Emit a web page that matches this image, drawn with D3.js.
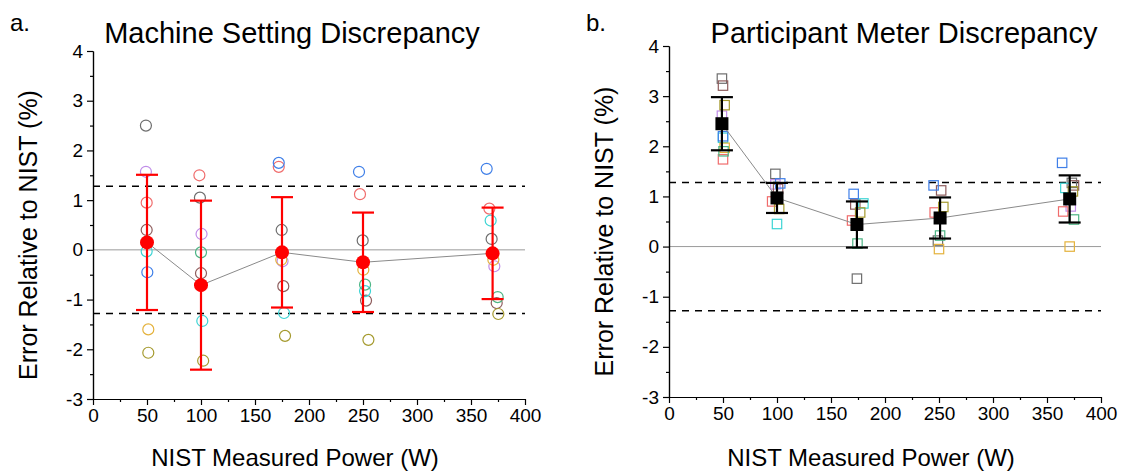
<!DOCTYPE html>
<html>
<head>
<meta charset="utf-8">
<script src="https://cdn.jsdelivr.net/npm/d3@7"></script>
<style>
body{margin:0;background:#fff;}
svg{font-family:"Liberation Sans",Arial,sans-serif;}
.tick text{font-size:19px;fill:#000;}
.domain,.tick line{stroke:#000;stroke-width:1.2;}
</style>
</head>
<body>
<svg id="chart" width="1124" height="471"></svg>
<script>
// ticks
var powerTicks = [0,50,100,150,200,250,300,350,400];
var powerMinor = [25,75,125,175,225,275,325,375];
var errorTicks = [-3,-2,-1,0,1,2,3,4];
var errorMinor = [-2.5,-1.5,-0.5,0.5,1.5,2.5,3.5];
var limitBand = 1.28;

// participants, one colour each
var people = ['gray','purple','red','brown','cyan','blue','orange','olive','green'];
var colors = ['#6e6e6e','#c08ce8','#f06c6c','#8e5c5c','#3cd4d4','#3f7fe8','#e4b23c','#a59a2e','#4db585'];

// a. machine setting discrepancy: x = NIST power (W), y = error (%)
var machineX = [
  [49,99,174.7,249.7,369.1],
  [49,100.5,175.5,null,371.6],
  [49.7,98.5,172,247.2,367],
  [49.7,100,176.2,252.8,373.8],
  [49.7,101.2,176.9,251.9,368.2],
  [50.3,null,172,246.3,364.5],
  [51.2,null,174.3,250.3,370.7],
  [51.2,102,177.8,255,375.3],
  [null,100,null,251.9,374.7]
];
var machineY = [
  [2.5,1.05,0.40,0.19,0.22],
  [1.57,0.32,-0.23,null,-0.33],
  [0.95,1.5,1.67,1.12,0.83],
  [0.40,-0.47,-0.73,-1.02,-1.07],
  [-0.03,-1.43,-1.27,-0.83,0.59],
  [-0.45,null,1.75,1.57,1.63],
  [-1.6,null,-0.2,-0.4,-0.2],
  [-2.07,-2.23,-1.73,-1.81,-1.29],
  [null,-0.05,null,-0.7,-0.95]
];
var machineMeanX = [50,100,175,250,370];
var machineMeanY = [0.15,-0.71,-0.05,-0.25,-0.07];
var machineErr = [1.36,1.70,1.11,1.0,0.92];

// b. participant meter discrepancy
var meterX = [
  [49,98.5,174,249,373],
  [49,98.5,null,null,372],
  [50,95.5,169.5,246,365],
  [50,101,172.5,252,375],
  [50,100,180,null,367],
  [50,103,171,245,364],
  [51.5,null,null,250,371],
  [51.5,102,177,254,374],
  [50.5,null,174.5,251,375]
];
var meterY = [
  [3.35,1.45,-0.64,0.12,1.27],
  [2.61,1.24,null,null,0.8],
  [1.74,0.9,0.52,0.68,0.70],
  [3.21,1.15,0.84,1.12,1.22],
  [2.17,0.45,0.86,null,1.17],
  [2.2,1.26,1.05,1.22,1.67],
  [1.97,null,null,-0.05,0.0],
  [2.82,0.75,0.68,0.79,1.1],
  [1.9,null,0.06,0.22,0.54]
];
var meterMeanX = [49,100,174,251,371];
var meterMeanY = [2.45,0.97,0.44,0.57,0.95];
var meterErr = [0.53,0.30,0.46,0.41,0.47];

var svg = d3.select('#chart');
var plain = function(d){return String(d);};

function drawPanel(box, tag, title, titleX, px, py, mx, my, me, meanColor, shape)
{
  var x = d3.scaleLinear().domain([0,400]).range([box.left,box.right]);
  var y = d3.scaleLinear().domain([-3,4]).range([box.bottom,box.top]);
  var g = svg.append('g');

  // reference lines
  g.append('line')
    .attr('x1',x(0)).attr('x2',x(400))
    .attr('y1',y(0)).attr('y2',y(0))
    .style('stroke','#9a9a9a').style('stroke-width',1);
  [limitBand,-limitBand].forEach(function(v){
    g.append('line')
      .attr('x1',x(0)).attr('x2',x(400))
      .attr('y1',y(v)).attr('y2',y(v))
      .style('stroke','#000').style('stroke-width',1.5)
      .style('stroke-dasharray','7,6');
  });

  // axes
  g.append('g').attr('transform','translate(0,'+box.bottom+')')
    .call(d3.axisBottom(x).tickValues(powerMinor).tickSize(3).tickFormat('').tickSizeOuter(0));
  g.append('g').attr('transform','translate(0,'+box.bottom+')')
    .call(d3.axisBottom(x).tickValues(powerTicks).tickSize(6).tickSizeOuter(0).tickPadding(4).tickFormat(plain));
  g.append('g').attr('transform','translate('+box.left+',0)')
    .call(d3.axisLeft(y).tickValues(errorMinor).tickSize(3).tickFormat('').tickSizeOuter(0));
  g.append('g').attr('transform','translate('+box.left+',0)')
    .call(d3.axisLeft(y).tickValues(errorTicks).tickSize(6).tickSizeOuter(0).tickPadding(4).tickFormat(plain));

  // individual participants
  px.forEach(function(row,i){
    row.forEach(function(xv,j){
      var yv = py[i][j];
      if (xv==null || yv==null) return;
      if (shape=='circle')
        g.append('circle').attr('cx',x(xv)).attr('cy',y(yv)).attr('r',5.5)
          .style('fill','none').style('stroke',colors[i]).style('stroke-width',1.2);
      else
        g.append('rect').attr('x',x(xv)-4.7).attr('y',y(yv)-4.7).attr('width',9.4).attr('height',9.4)
          .style('fill','none').style('stroke',colors[i]).style('stroke-width',1.2);
    });
  });

  // line through means
  g.append('path')
    .datum(d3.range(mx.length))
    .attr('d',d3.line().x(function(k){return x(mx[k]);}).y(function(k){return y(my[k]);}))
    .style('fill','none').style('stroke','#8a8a8a').style('stroke-width',1);

  // error bars
  var eb = g.selectAll('.err').data(d3.range(mx.length)).enter().append('g')
    .style('stroke',meanColor).style('stroke-width',2.2);
  eb.append('line')
    .attr('x1',function(k){return x(mx[k]);}).attr('x2',function(k){return x(mx[k]);})
    .attr('y1',function(k){return y(my[k]+me[k]);}).attr('y2',function(k){return y(my[k]-me[k]);});
  eb.append('line')
    .attr('x1',function(k){return x(mx[k])-11;}).attr('x2',function(k){return x(mx[k])+11;})
    .attr('y1',function(k){return y(my[k]+me[k]);}).attr('y2',function(k){return y(my[k]+me[k]);});
  eb.append('line')
    .attr('x1',function(k){return x(mx[k])-11;}).attr('x2',function(k){return x(mx[k])+11;})
    .attr('y1',function(k){return y(my[k]-me[k]);}).attr('y2',function(k){return y(my[k]-me[k]);});

  // means
  if (shape=='circle')
    g.selectAll('.mean').data(d3.range(mx.length)).enter().append('circle')
      .attr('cx',function(k){return x(mx[k]);}).attr('cy',function(k){return y(my[k]);})
      .attr('r',7).style('fill',meanColor);
  else
    g.selectAll('.mean').data(d3.range(mx.length)).enter().append('rect')
      .attr('x',function(k){return x(mx[k])-6.5;}).attr('y',function(k){return y(my[k])-6.5;})
      .attr('width',13).attr('height',13).style('fill',meanColor);

  // text
  g.append('text').attr('x',box.left-83).attr('y',31).style('font-size','24px').text(tag);
  g.append('text').attr('x',titleX).attr('y',43).attr('text-anchor','middle')
    .style('font-size','29px').text(title);
  g.append('text').attr('x',(box.left+box.right)/2-14).attr('y',466).attr('text-anchor','middle')
    .style('font-size','24px').text('NIST Measured Power (W)');
  g.append('text')
    .attr('transform','translate('+(box.left-56)+','+((box.top+box.bottom)/2+10)+') rotate(-90)')
    .attr('text-anchor','middle').style('font-size','25px').text('Error Relative to NIST (%)');
}

drawPanel({left:93,right:525,top:51,bottom:399},'a.','Machine Setting Discrepancy',292,
  machineX,machineY,machineMeanX,machineMeanY,machineErr,'#ff0000','circle');
drawPanel({left:669,right:1101,top:46,bottom:397},'b.','Participant Meter Discrepancy',904,
  meterX,meterY,meterMeanX,meterMeanY,meterErr,'#000000','square');
</script>
</body>
</html>
